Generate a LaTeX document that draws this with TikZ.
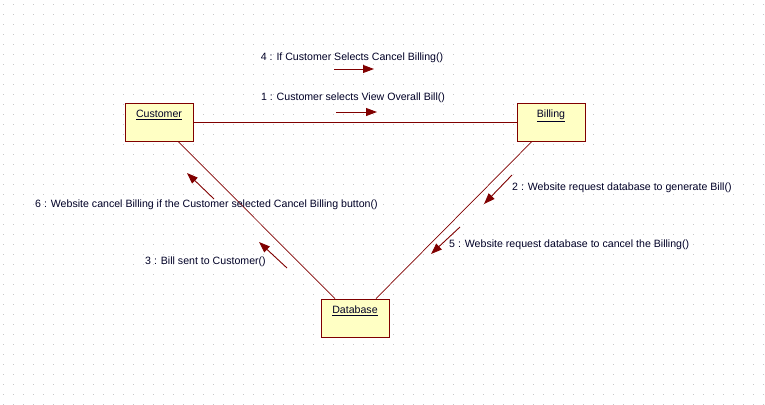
\documentclass[tikz,border=0pt]{standalone}
\usepackage{fontspec}
\setmainfont{Liberation Sans}
\usetikzlibrary{arrows.meta,calc}
\definecolor{linkred}{RGB}{128,0,0}
\definecolor{boxfill}{RGB}{255,255,196}
\definecolor{griddot}{RGB}{200,200,200}
\begin{document}
\begin{tikzpicture}[x=1pt, y=-1pt, font=\fontsize{10.6}{12}\selectfont,
  objbox/.style={draw=linkred, fill=boxfill, line width=0.8pt, minimum width=68pt, minimum height=38pt, inner sep=0pt},
  link/.style={draw=linkred, line width=0.7pt},
  msg/.style={draw=linkred, line width=0.9pt, -{Triangle[length=11pt, width=8pt]}},
  msglabel/.style={inner sep=0pt, text=black!85!blue}]
  \useasboundingbox (0,0) rectangle (765,404);
  % background dots
  \foreach \i in {0,...,76} {
    \foreach \j in {0,...,40} {
      \fill[griddot] (3+10*\i,4+10*\j) rectangle ++(1,1);
    }
  }
  % objects
  \node[objbox] (customer) at (159,122) {};
  \node[msglabel, anchor=north] at (customer.north) [yshift=-7.5pt] {\underline{Customer}};
  \node[objbox] (billing) at (551,122) {};
  \node[msglabel, anchor=north] at (billing.north) [yshift=-7.5pt] {\underline{Billing}};
  \node[objbox] (database) at (355,318) {};
  \node[msglabel, anchor=north] at (database.north) [yshift=-7.5pt] {\underline{Database}};
  % links
  \draw[link] (customer.east) -- (billing.west);
  \draw[link] ($(customer.south)+(19,0)$) -- ($(database.north)+(-20,0)$);
  \draw[link] ($(billing.south)+(-19,0)$) -- ($(database.north)+(21,0)$);
  % messages customer -> billing
  \draw[msg] (334,69) -- (374,69);
  \node[msglabel] (m4) at (352,58) {4 : If Customer Selects Cancel Billing()};
  \draw[msg] (336,112) -- (377,112);
  \node[msglabel] (m1) at (353,98) {1 : Customer selects View Overall Bill()};
  % messages billing -> database
  \draw[msg] (512,175) -- (484,204);
  \node[msglabel, anchor=west] (m2) at (512,188) {2 : Website request database to generate Bill()};
  \draw[msg] (460,227) -- (431,254);
  \node[msglabel, anchor=west] (m5) at (449,245) {5 : Website request database to cancel the Billing()};
  % messages database -> customer
  \draw[msg] (287,268) -- (259,242);
  \node[msglabel, anchor=west] (m3) at (145,262) {3 : Bill sent to Customer()};
  \draw[msg] (214,199) -- (187,173);
  \node[msglabel, anchor=west] (m6) at (35,205) {6 : Website cancel Billing if the Customer selected Cancel Billing button()};
\end{tikzpicture}
\end{document}
